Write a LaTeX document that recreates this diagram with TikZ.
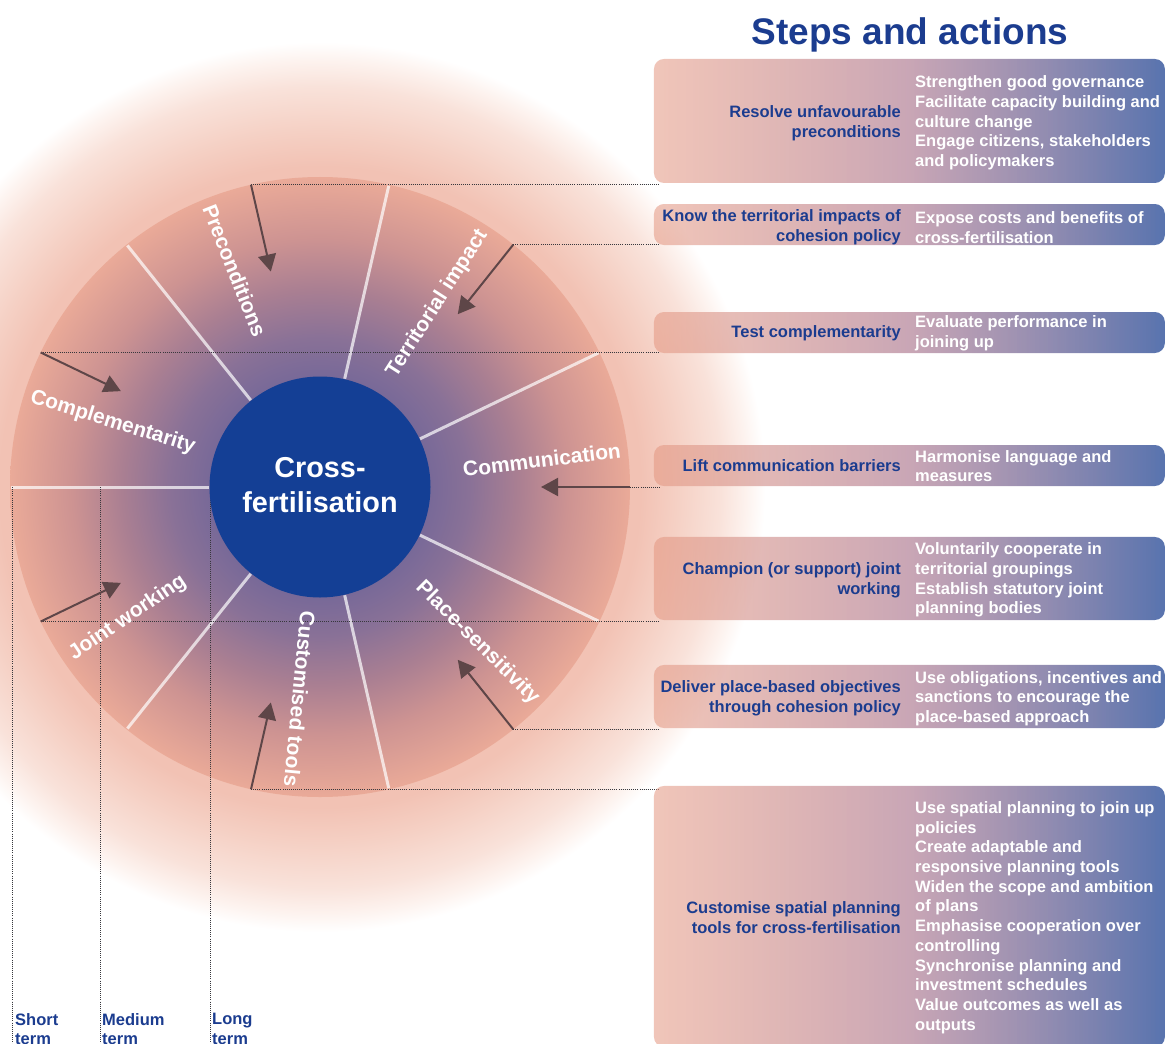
\documentclass[tikz,border=0pt]{standalone}
\usepackage{fontspec}
\setmainfont{Liberation Sans}
\usetikzlibrary{arrows.meta,fadings}
\definecolor{navy}{RGB}{27,60,143}
\definecolor{hubblue}{RGB}{20,63,149}
\definecolor{arrowc}{RGB}{94,70,72}
\definecolor{dotc}{RGB}{55,55,60}
\definecolor{glowA}{RGB}{242,194,180}
\definecolor{glowB}{RGB}{245,208,196}
\definecolor{glowC}{RGB}{249,226,218}
\definecolor{glowD}{RGB}{253,243,239}
\definecolor{whA}{RGB}{104,94,150}
\definecolor{whB}{RGB}{120,105,152}
\definecolor{whC}{RGB}{137,113,151}
\definecolor{whD}{RGB}{170,127,146}
\definecolor{whE}{RGB}{205,147,146}
\definecolor{whF}{RGB}{234,170,152}
\definecolor{boxL}{RGB}{228,150,128}
\definecolor{boxM}{RGB}{185,140,160}
\definecolor{boxR}{RGB}{88,115,174}
\pgfdeclareradialshading{glowsh}{\pgfpoint{0bp}{0bp}}{color(0bp)=(glowA); color(18bp)=(glowA); color(20bp)=(glowB); color(22.5bp)=(glowC); color(24bp)=(glowD); color(25bp)=(white); color(50bp)=(white)}
\pgfdeclareradialshading{wheelsh}{\pgfpoint{0bp}{0bp}}{color(0bp)=(whA); color(8.9bp)=(whB); color(12bp)=(whC); color(16bp)=(whD); color(20bp)=(whE); color(25bp)=(whF); color(50bp)=(whF)}
\tikzfading[name=boxfade, left color=transparent!45, right color=transparent!0]
\begin{document}
\begin{tikzpicture}[x=1pt,y=1pt,
  spoke/.style={white, opacity=0.7, line width=3pt},
  arr/.style={arrowc, line width=2pt, -{Triangle[length=17pt,width=18pt]}},
  dotline/.style={dotc, line width=0.9pt, dash pattern=on 0.9pt off 1.2pt},
  lbl/.style={text=white, font=\fontsize{21}{25}\selectfont\bfseries, inner sep=0pt},
  stepbox/.style={rounded corners=10pt, left color=boxL, right color=boxR, middle color=boxM, path fading=boxfade, fit fading=true},
  ltxt/.style={anchor=east, align=right, text=navy, font=\fontsize{16.5}{19.7}\selectfont\bfseries, inner sep=0pt},
  rtxt/.style={anchor=west, align=left, text=white, font=\fontsize{16.5}{19.7}\selectfont\bfseries, inner sep=0pt},
  termtxt/.style={anchor=north west, align=left, text=navy, font=\fontsize{16.5}{19.7}\selectfont\bfseries, inner sep=0pt}]
\useasboundingbox (0,0) rectangle (1166,-1043);
\coordinate (C) at (320,-487);
\shade[shading=glowsh] (C) circle (445);
\shade[shading=wheelsh] (C) circle (310);
\foreach \a in {25.714,77.143,128.571,180,231.429,282.857,334.286}
  \draw[spoke] ([shift={(\a:111)}]C) -- ([shift={(\a:309)}]C);
\foreach \n/\a in {pre/102.857, ter/51.429, com/0, cpl/154.286, joi/205.714, cus/257.143, pla/308.571} {
  \coordinate (t-\n) at ([shift={(\a:310)}]C);
  \coordinate (h-\n) at ([shift={(\a:221)}]C);
}
\coordinate (bx) at (660,0);
\coordinate (bot) at (0,-1045);
\coordinate (s1) at (12,-487);
\coordinate (s2) at (100,-487);
\coordinate (s3) at (210,-487);
% dotted guides
\foreach \n in {pre,ter,com,cpl,joi,cus,pla}
  \draw[dotline] (t-\n) -- (t-\n -| bx);
\draw[dotline] (s1) -- (s1 |- bot);
\draw[dotline] (s2) -- (s2 |- bot);
\draw[dotline] (s3) -- (s3 |- bot);
% arrows
\foreach \n in {pre,ter,com,cpl,joi,cus,pla}
  \draw[arr] (t-\n) -- (h-\n);
% hub
\node[circle, fill=hubblue, minimum size=221pt, inner sep=0pt] (hub) at (C) {};
\node[text=white, align=center, inner sep=0pt,
  font=\fontsize{28.8}{35}\selectfont\bfseries] (hubtxt) at ([yshift=2]C) {Cross-\\fertilisation};
% wheel labels
\node[lbl, rotate=-68.5, anchor=west] (lpre) at ([shift={(111.5:303)}]C) {Preconditions};
\node[lbl, rotate=57.4, anchor=east] (lter) at ([shift={(57.4:303)}]C) {Territorial impact};
\node[lbl, rotate=7, anchor=east] (lcom) at ([shift={(7:303)}]C) {Communication};
\node[lbl, rotate=-17.3, anchor=west] (lcpl) at ([shift={(162.7:303)}]C) {Complementarity};
\node[lbl, rotate=34.2, anchor=west] (ljoi) at ([shift={(214.2:301)}]C) {Joint working};
\node[lbl, rotate=264.5, anchor=east] (lcus) at ([shift={(264.5:301)}]C) {Customised tools};
\node[lbl, rotate=315.3, anchor=east] (lpla) at ([shift={(315.3:304)}]C) {Place-sensitivity};
% title
\node[font=\fontsize{37}{44}\selectfont\bfseries, text=navy, anchor=base, inner sep=0pt] (title) at (910,-44.5) {Steps and actions};
% boxes
\path[stepbox] (654,-59) rectangle (1165,-183);
\path[stepbox] (654,-204) rectangle (1165,-245);
\path[stepbox] (654,-312) rectangle (1165,-353);
\path[stepbox] (654,-445) rectangle (1165,-486);
\path[stepbox] (654,-537) rectangle (1165,-620);
\path[stepbox] (654,-665) rectangle (1165,-728);
\path[stepbox] (654,-786) rectangle (1165,-1047);
% box texts
\node[ltxt] (l1) at (901,-123) {Resolve unfavourable\\preconditions};
\node[rtxt] (r1) at (915,-123) {Strengthen good governance\\Facilitate capacity building and\\culture change\\Engage citizens, stakeholders\\and policymakers};
\node[ltxt] (l2) at (901,-227.5) {Know the territorial impacts of\\cohesion policy};
\node[rtxt] (r2) at (915,-227.5) {Expose costs and benefits of\\cross-fertilisation};
\node[ltxt] (l3) at (901,-333.5) {Test complementarity};
\node[rtxt] (r3) at (915,-333.5) {Evaluate performance in\\joining up};
\node[ltxt] (l4) at (901,-466) {Lift communication barriers};
\node[rtxt] (r4) at (915,-466) {Harmonise language and\\measures};
\node[ltxt] (l5) at (901,-580) {Champion (or support) joint\\working};
\node[rtxt] (r5) at (915,-580) {Voluntarily cooperate in\\territorial groupings\\Establish statutory joint\\planning bodies};
\node[ltxt] (l6) at (901,-698.5) {Deliver place-based objectives\\through cohesion policy};
\node[rtxt] (r6) at (915,-698.5) {Use obligations, incentives and\\sanctions to encourage the\\place-based approach};
\node[ltxt] (l7) at (901,-917.5) {Customise spatial planning\\tools for cross-fertilisation};
\node[rtxt] (r7) at (915,-917.5) {Use spatial planning to join up\\policies\\Create adaptable and\\responsive planning tools\\Widen the scope and ambition\\of plans\\Emphasise cooperation over\\controlling\\Synchronise planning and\\investment schedules\\Value outcomes as well as\\outputs};
% term labels
\node[termtxt] (st) at (15,-1013) {Short\\term};
\node[termtxt] (md) at (102,-1013) {Medium\\term};
\node[termtxt] (lg) at (212,-1013) {Long\\term};
\end{tikzpicture}
\end{document}
